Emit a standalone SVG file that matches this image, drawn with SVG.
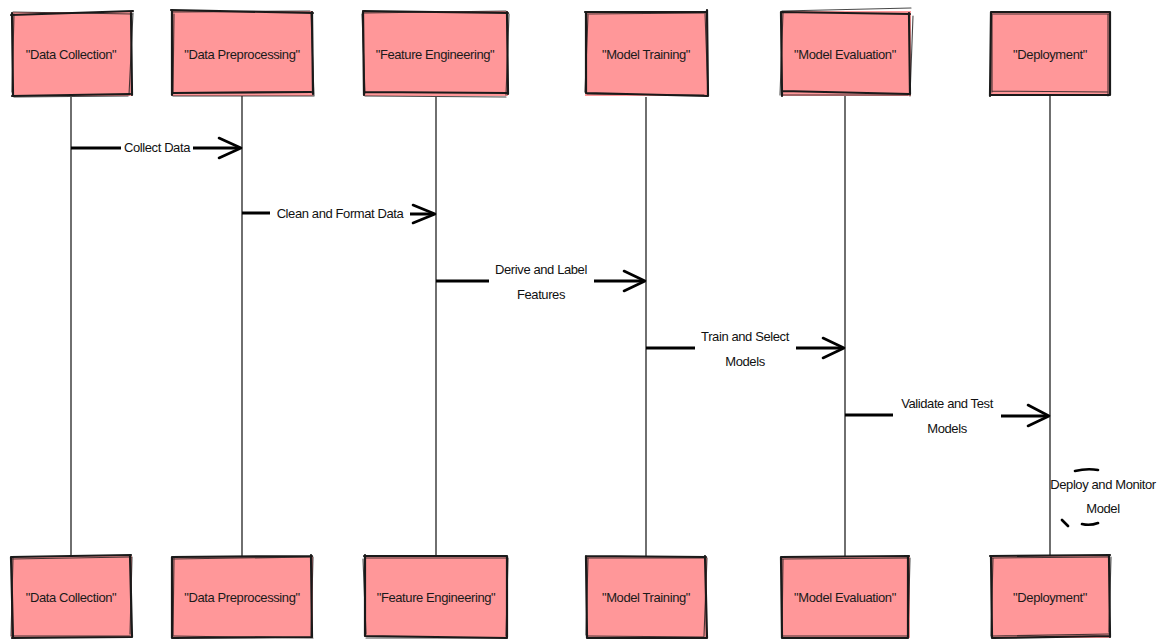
<svg xmlns="http://www.w3.org/2000/svg" width="1161" height="641" viewBox="0 0 1161 641">
<style>
.box{fill:#ff9799;stroke:none}
.sk{fill:none;stroke:#1a1a1a;stroke-width:2.2;stroke-linecap:round;stroke-linejoin:round}
.sk2{fill:none;stroke:#1a1a1a;stroke-width:1.1;stroke-linecap:round;opacity:.8}
.lbl{font-family:"Liberation Sans",Arial,sans-serif;font-size:13px;letter-spacing:-0.4px;fill:#1a1a1a;text-anchor:middle}
.life{stroke:#333;stroke-width:1.4;fill:none}
.msg{stroke:#000;stroke-width:3;fill:none;stroke-linecap:butt}
.head{stroke:#000;stroke-width:2.6;fill:none;stroke-linecap:round;stroke-linejoin:round}
.mt{font-family:"Liberation Sans",Arial,sans-serif;font-size:13px;letter-spacing:-0.4px;fill:#111;text-anchor:middle}
</style>
<rect width="1161" height="641" fill="#fff"/>
<g id="lifelines">
<line class="life" x1="71" y1="97" x2="71" y2="556"/>
<line class="life" x1="242" y1="96" x2="242" y2="556"/>
<line class="life" x1="436" y1="97" x2="436" y2="556"/>
<line class="life" x1="646" y1="97" x2="646" y2="556"/>
<line class="life" x1="845" y1="96" x2="845" y2="556"/>
<line class="life" x1="1050" y1="96" x2="1050" y2="556"/>
</g>
<g id="node-data-collection-top">
<rect class="box" x="12" y="12" width="120" height="84"/>
<path class="sk" d="M11 15 L133 11 M12 13 L13 96 M131 12 L132 95 M12 96 L130 94"/>
<path class="sk2" d="M13 12 L132 14 M14 14 L12 92 M133 13 L129 95 M14 97 L128 96"/>
<text class="lbl" x="71" y="59">"Data Collection"</text>
</g>
<g id="node-data-preprocessing-top">
<rect class="box" x="172" y="11" width="141" height="85"/>
<path class="sk" d="M171 10 L313 13 M172 11 L172 95 M312 12 L313 94 M172 93 L311 92"/>
<path class="sk2" d="M173 12 L310 11 M174 14 L173 93 M311 14 L314 96 M173 96 L314 96"/>
<text class="lbl" x="242" y="59">"Data Preprocessing"</text>
</g>
<g id="node-feature-engineering-top">
<rect class="box" x="363" y="11" width="145" height="85"/>
<path class="sk" d="M363 11 L508 13 M363 12 L364 95 M507 12 L508 94 M364 92 L507 93"/>
<path class="sk2" d="M364 13 L506 11 M362 14 L365 93 M509 14 L506 95 M365 96 L506 97"/>
<text class="lbl" x="435" y="59">"Feature Engineering"</text>
</g>
<g id="node-model-training-top">
<rect class="box" x="585" y="12" width="123" height="84"/>
<path class="sk" d="M585 12 L706 12 M586 13 L586 93 M707 10 L708 96 M586 93 L707 96"/>
<path class="sk2" d="M587 14 L706 13 M588 15 L585 92 M705 13 L708 94 M587 94 L704 95"/>
<text class="lbl" x="646" y="59">"Model Training"</text>
</g>
<g id="node-model-evaluation-top">
<rect class="box" x="781" y="11" width="130" height="85"/>
<path class="sk" d="M781 12 L910 14 M781 12 L782 96 M909 13 L910 94 M783 91 L909 94"/>
<path class="sk2" d="M782 11 L911 8 M783 13 L780 95 M913 16 L910 96 M783 95 L908 95"/>
<text class="lbl" x="845" y="59">"Model Evaluation"</text>
</g>
<g id="node-deployment-top">
<rect class="box" x="990" y="12" width="120" height="83"/>
<path class="sk" d="M991 12 L1110 12 M991 12 L990 96 M1110 12 L1110 95 M991 95 L1110 95"/>
<path class="sk2" d="M992 14 L1109 14 M992 15 L992 92 M1108 14 L1108 96 M992 91 L1108 92"/>
<text class="lbl" x="1050" y="59">"Deployment"</text>
</g>
<g id="node-data-collection-bottom">
<rect class="box" x="11" y="556" width="121" height="82"/>
<path class="sk" d="M11 557 L131 555 M11 557 L13 638 M130 555 L132 637 M12 638 L131 637"/>
<path class="sk2" d="M12 559 L131 557 M13 558 L11 636 M132 557 L130 634 M12 636 L130 636"/>
<text class="lbl" x="71" y="602">"Data Collection"</text>
</g>
<g id="node-data-preprocessing-bottom">
<rect class="box" x="172" y="556" width="141" height="82"/>
<path class="sk" d="M172 557 L312 556 M172 557 L172 638 M311 555 L312 637 M173 638 L312 637"/>
<path class="sk2" d="M173 559 L311 557 M174 558 L173 636 M313 557 L311 636 M174 636 L313 638"/>
<text class="lbl" x="242" y="602">"Data Preprocessing"</text>
</g>
<g id="node-feature-engineering-bottom">
<rect class="box" x="364" y="557" width="144" height="80"/>
<path class="sk" d="M364 556 L507 556 M365 555 L365 636 M507 556 L507 637 M365 636 L507 638"/>
<path class="sk2" d="M365 558 L506 558 M363 559 L366 634 M508 558 L506 636 M366 638 L505 638"/>
<text class="lbl" x="436" y="602">"Feature Engineering"</text>
</g>
<g id="node-model-training-bottom">
<rect class="box" x="586" y="557" width="121" height="81"/>
<path class="sk" d="M586 556 L706 557 M586 556 L587 638 M705 556 L707 638 M587 638 L707 638"/>
<path class="sk2" d="M587 558 L705 558 M588 558 L586 635 M707 558 L704 636 M588 636 L704 637"/>
<text class="lbl" x="646" y="602">"Model Training"</text>
</g>
<g id="node-model-evaluation-bottom">
<rect class="box" x="781" y="556" width="129" height="82"/>
<path class="sk" d="M781 557 L909 556 M781 557 L782 638 M908 556 L908 637 M782 638 L908 638"/>
<path class="sk2" d="M782 559 L908 558 M783 559 L782 636 M910 558 L908 636 M783 636 L907 636"/>
<text class="lbl" x="845" y="602">"Model Evaluation"</text>
</g>
<g id="node-deployment-bottom">
<rect class="box" x="991" y="556" width="119" height="82"/>
<path class="sk" d="M990 556 L1110 555 M991 556 L992 638 M1109 555 L1110 637 M992 638 L1110 636"/>
<path class="sk2" d="M992 558 L1108 557 M993 558 L991 636 M1111 557 L1109 632 M993 636 L1109 634"/>
<text class="lbl" x="1050" y="602">"Deployment"</text>
</g>
<g id="connectors">
<path class="msg" d="M71 148 L121 148 M193 148 L240 148"/>
<path class="head" d="M219 138 L241 148 L219 158"/>
<text class="mt" x="157" y="152">Collect Data</text>
<path class="msg" d="M242 213 L270 213 M410 214 L434 214"/>
<path class="head" d="M413 205 L435 214 L413 223"/>
<text class="mt" x="340" y="218">Clean and Format Data</text>
<path class="msg" d="M436 281 L489 281 M594 281 L644 281"/>
<path class="head" d="M624 271 L645 281 L624 291"/>
<text class="mt" x="541" y="274">Derive and Label</text>
<text class="mt" x="541" y="299">Features</text>
<path class="msg" d="M646 348 L695 348 M796 348 L843 348"/>
<path class="head" d="M823 338 L844 348 L823 358"/>
<text class="mt" x="745" y="341">Train and Select</text>
<text class="mt" x="745" y="366">Models</text>
<path class="msg" d="M845 415 L893 415 M1001 416 L1048 416"/>
<path class="head" d="M1028 405 L1049 416 L1028 426"/>
<text class="mt" x="947" y="408">Validate and Test</text>
<text class="mt" x="947" y="433">Models</text>
<path class="head" d="M1075 471 Q1087 468 1098 470 M1082 524 Q1090 526 1098 523 M1062 520 L1068 526" stroke-width="2"/>
<text class="mt" x="1103" y="489">Deploy and Monitor</text>
<text class="mt" x="1103" y="513">Model</text>
</g>
</svg>
